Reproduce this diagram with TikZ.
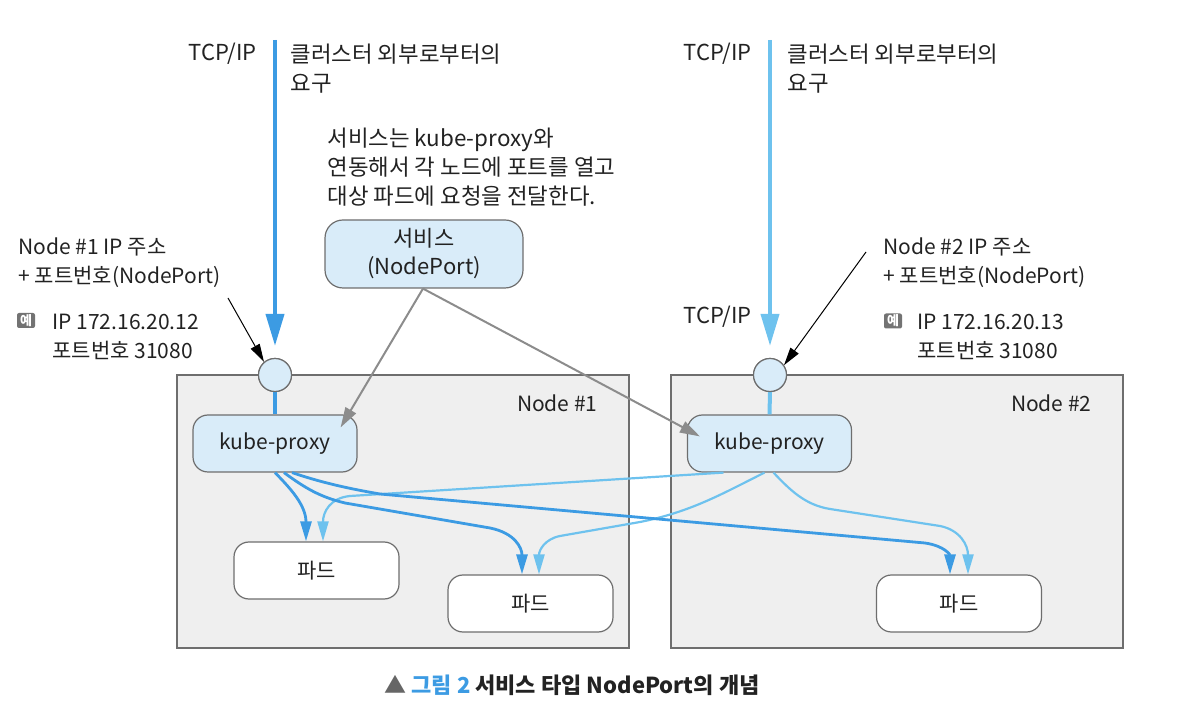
\documentclass[tikz,border=0pt]{standalone}
\usepackage{fontspec}
\setmainfont{Noto Sans CJK KR}
\usetikzlibrary{arrows.meta}
\definecolor{dblue}{HTML}{3C9BE3}
\definecolor{lblue}{HTML}{6EC2EE}
\definecolor{boxblue}{HTML}{D9ECF9}
\definecolor{nodebg}{HTML}{EFEFEF}
\definecolor{edgegray}{HTML}{6E6E6E}
\definecolor{garrow}{HTML}{8C8C8C}
\definecolor{txt}{HTML}{222222}
\begin{document}
\begin{tikzpicture}[x=0.5pt,y=-0.5pt,
  every node/.style={font=\fontsize{10.5}{14.5}\selectfont, inner sep=0pt, text=txt},
  hostbox/.style={draw=edgegray, fill=nodebg, line width=0.6pt, minimum width=226pt, minimum height=136.5pt},
  proxybox/.style={draw=edgegray, fill=boxblue, rounded corners=7.5pt, line width=0.6pt, minimum width=82pt, minimum height=28.5pt},
  podbox/.style={draw=edgegray, fill=white, rounded corners=7.5pt, line width=0.6pt, minimum width=82.5pt, minimum height=28.5pt},
  svcbox/.style={draw=edgegray, fill=boxblue, rounded corners=9pt, line width=0.6pt, minimum width=99pt, minimum height=34pt, align=center, font=\fontsize{11}{14}\selectfont},
  portcircle/.style={circle, draw=edgegray, fill=boxblue, line width=0.6pt, minimum size=16.5pt},
  bigin/.style={line width=2pt, -{Triangle[length=16pt,width=9pt]}, shorten >=6pt},
  stub/.style={line width=2pt},
  darkcurve/.style={draw=dblue, line width=1.4pt, -{Triangle[length=10pt,width=5.5pt]}},
  lightcurve/.style={draw=lblue, line width=1.1pt, -{Triangle[length=10pt,width=5.5pt]}},
  svcarrow/.style={draw=garrow, line width=1pt, -{Triangle[length=10pt,width=6pt]}},
  notearrow/.style={draw=black, line width=0.5pt, -{Triangle[length=9pt,width=5pt]}},
  exicon/.style={fill=black!55, rounded corners=1pt, minimum width=9pt, minimum height=7.5pt, text=white, font=\fontsize{6.5}{7}\selectfont\bfseries},
  label/.style={align=left, anchor=west},
  krlabel/.style={align=left, anchor=west, font=\fontsize{11.2}{14.5}\selectfont}
]
\useasboundingbox (0,0) rectangle (1178,710);

% host boxes
\node[hostbox] (host1) at (403,511.5) {};
\node[hostbox] (host2) at (897,511.5) {};
\node[anchor=east] (host1lbl) at (598,403) {Node \#1};
\node[anchor=east] (host2lbl) at (1092,403) {Node \#2};

% incoming TCP/IP
\coordinate (top1) at (275,40);
\coordinate (top2) at (770,40);
\node[portcircle] (c1) at (275,375) {};
\node[portcircle] (c2) at (770,375) {};
\node[proxybox] (kp1) at (275,443.5) {kube-proxy};
\node[proxybox] (kp2) at (769.5,443.5) {kube-proxy};
\draw[bigin, draw=dblue, fill=dblue] (top1) -- (c1);
\draw[bigin, draw=lblue, fill=lblue] (top2) -- (c2);
\draw[stub, draw=dblue] (c1.south) -- (kp1.north);
\draw[stub, draw=lblue] (c2.south) -- (kp2.north);
\node[portcircle] at (c1) {};
\node[portcircle] at (c2) {};

\node[anchor=east, font=\fontsize{11}{14}\selectfont] (tcp1) at (257,54) {TCP/IP};
\node[anchor=east, font=\fontsize{11}{14}\selectfont] (tcp2) at (752,54) {TCP/IP};
\node[anchor=east, font=\fontsize{11}{14}\selectfont] (tcp3) at (752,317) {TCP/IP};
\node[krlabel] (ext1) at (290,68.5) {클러스터 외부로부터의\\요구};
\node[krlabel] (ext2) at (787,68.5) {클러스터 외부로부터의\\요구};

% service
\node[krlabel] (svcnote) at (327,167) {서비스는 kube-proxy와\\연동해서 각 노드에 포트를 열고\\대상 파드에 요청을 전달한다.};
\node[svcbox] (svc) at (424,254) {서비스\\(NodePort)};

% pods
\node[podbox] (pod1) at (316.5,570.5) {파드};
\node[podbox] (pod2) at (530.5,603.5) {파드};
\node[podbox] (pod3) at (959,603.5) {파드};

% curves from kube-proxy #2 (light)
\draw[lightcurve] ([xshift=-23pt]kp2.south) -- (350,496) .. controls (330,498) and (323,512) .. ([xshift=3.25pt]pod1.north);
\draw[lightcurve] ([xshift=-2.5pt]kp2.south) .. controls (720,495) and (690,512) .. (640,522) -- (560,536) .. controls (545,539) and (539,550) .. ([xshift=4.25pt]pod2.north);
\draw[lightcurve] ([xshift=2pt]kp2.south) .. controls (790,490) and (805,505) .. (830,509) -- (940,526) .. controls (960,530) and (968,545) .. ([xshift=4.5pt]pod3.north);

% curves from kube-proxy #1 (dark)
\draw[darkcurve] (kp1.south) .. controls (290,488) and (306,505) .. ([xshift=-5.25pt]pod1.north);
\draw[darkcurve] ([xshift=4.5pt]kp1.south) .. controls (305,488) and (320,497) .. (345,503) -- (490,528) .. controls (515,533) and (522,548) .. ([xshift=-4.25pt]pod2.north);
\draw[darkcurve] ([xshift=8.5pt]kp1.south) .. controls (320,482) and (345,488) .. (380,494) -- (925,543) .. controls (945,546) and (950,555) .. ([xshift=-4.5pt]pod3.north);

% service arrows
\draw[svcarrow] ([xshift=-0.5pt]svc.south) -- ([xshift=-8.5pt,yshift=-6.5pt]kp1.north east);
\draw[svcarrow] ([xshift=-0.5pt]svc.south) -- ([xshift=6.5pt,yshift=-11pt]kp2.north west);

% annotations
\node[label] (ip1) at (18,262.5) {Node \#1 IP 주소\\+ 포트번호(NodePort)};
\node[exicon] (ex1) at (26,320.5) {예};
\node[label] (ip1ex) at (52,336.5) {IP 172.16.20.12\\포트번호 31080};
\node[label] (ip2) at (883,262.5) {Node \#2 IP 주소\\+ 포트번호(NodePort)};
\node[exicon] (ex2) at (893,321) {예};
\node[label] (ip2ex) at (917,336.5) {IP 172.16.20.13\\포트번호 31080};
\coordinate (a1) at (228,298);
\coordinate (a2) at (866,252);
\draw[notearrow] (a1) -- (c1.130);
\draw[notearrow] (a2) -- (c2.35);

% caption
\node[font=\fontsize{11}{12}\selectfont\bfseries] (cap) at (572,685) {{\color{black!60}\mdseries ▲} {\color{dblue}그림 2} 서비스 타입 NodePort의 개념};
\end{tikzpicture}
\end{document}
